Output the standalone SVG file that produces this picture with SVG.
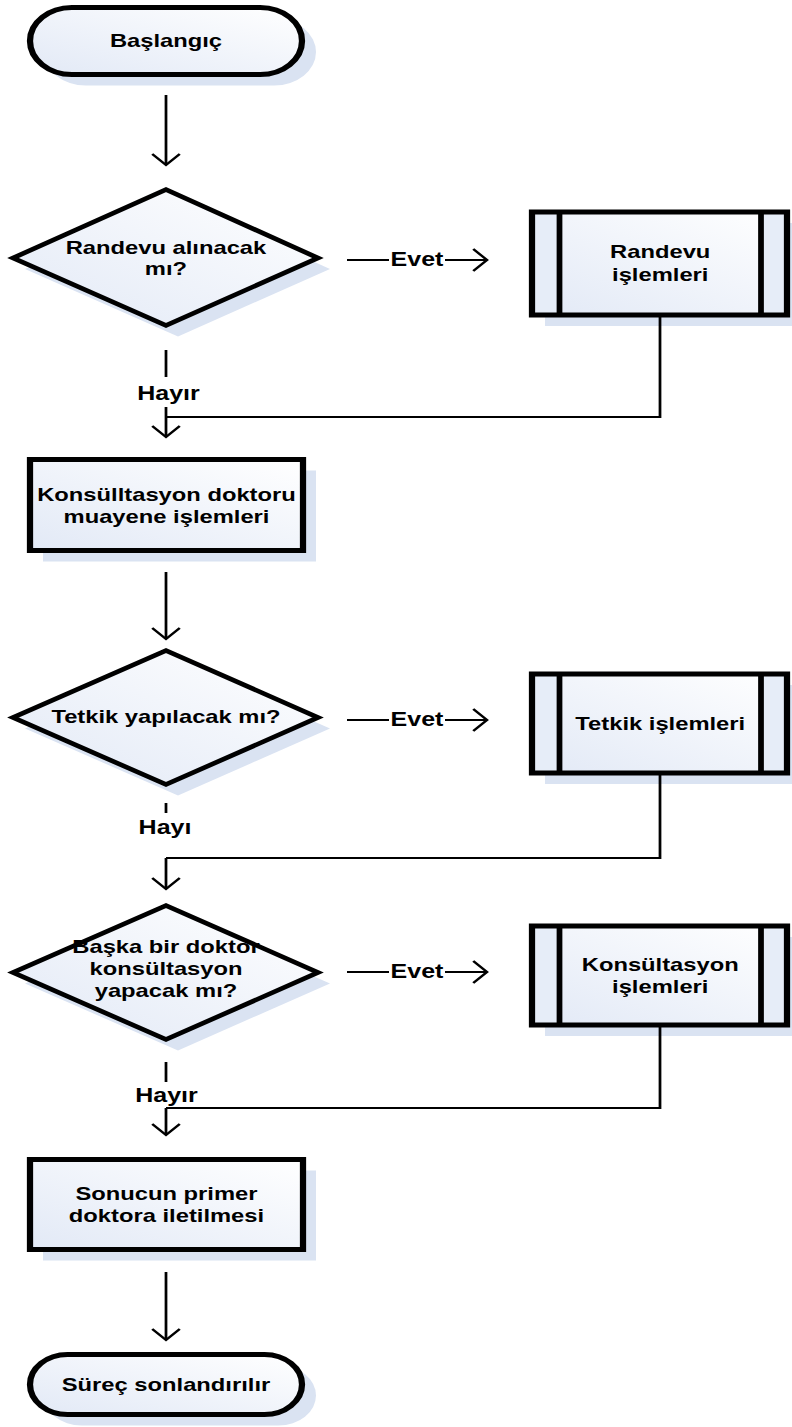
<svg xmlns="http://www.w3.org/2000/svg" width="792" height="1427" viewBox="0 0 792 1427">
  <defs>
    <linearGradient id="fillGrad" x1="0" y1="1" x2="1" y2="0">
      <stop offset="0" stop-color="#e2e9f6"/>
      <stop offset="1" stop-color="#ffffff"/>
    </linearGradient>
    <marker id="ah" viewBox="-14 -13 16 26" markerWidth="16" markerHeight="26" refX="0" refY="0" orient="auto" markerUnits="userSpaceOnUse" overflow="visible">
      <path d="M-11,-11 L0,0 L-11,11" fill="none" stroke="#000" stroke-width="2.2" stroke-linejoin="miter"/>
    </marker>
    <style>
      .shadow { fill: #dae3f2; stroke: none; }
      .node { fill: url(#fillGrad); stroke: #000; stroke-width: 5; }
      .fillonly { fill: url(#fillGrad); stroke: none; }
      .outline { fill: none; stroke: #000; stroke-width: 4.5; stroke-linejoin: miter; }
      .strip { fill: #e6edf8; stroke: none; }
      .bar { stroke: #000; stroke-width: 4.6; }
      .t { font-family: "Liberation Sans", Arial, sans-serif; font-weight: bold; font-size: 19px; fill: #000; text-anchor: middle; }
      .lbl { font-family: "Liberation Sans", Arial, sans-serif; font-weight: bold; font-size: 20px; fill: #000; text-anchor: middle; }
      .c { fill: none; stroke: #000; stroke-width: 2.2; }
      .arrow { marker-end: url(#ah); }
    </style>
  </defs>

  <rect width="792" height="1427" fill="#ffffff"/>

  <!-- drawing is laid out in a horizontally condensed space and widened by 1.25 -->
  <g transform="scale(1.25 1)">

    <!-- Start terminator -->
    <g id="start">
      <rect class="shadow" x="35.2" y="18.5" width="217.6" height="67" rx="33.5" ry="33.5"/>
      <rect class="node" x="24" y="7.5" width="217.6" height="67" rx="33.5" ry="33.5"/>
      <text class="t" x="132.8" y="47">Başlangıç</text>
    </g>

    <!-- Decision: appointment -->
    <g id="dec-randevu">
      <polygon class="shadow" transform="translate(9.6 11)" points="10.4,258 132.8,189.5 254.4,258 132.8,325.5"/>
      <polygon class="fillonly" points="10.4,258 132.8,189.5 254.4,258 132.8,325.5"/>
      <text class="t" x="132.8" y="254">Randevu alınacak</text>
      <text class="t" x="132.8" y="275">mı?</text>
      <polygon class="outline" points="10.4,258 132.8,189.5 254.4,258 132.8,325.5"/>
    </g>

    <!-- Subprocess: appointment -->
    <g id="sub-randevu">
      <rect class="shadow" x="436" y="223" width="204" height="103"/>
      <rect class="fillonly" x="425.6" y="212" width="204" height="103"/>
      <rect class="strip" x="425.6" y="212" width="22" height="103"/>
      <rect class="strip" x="608.8" y="212" width="20.8" height="103"/>
      <rect class="node" x="425.6" y="212" width="204" height="103" fill="none" style="fill:none"/>
      <line class="bar" x1="447.6" y1="212" x2="447.6" y2="315"/>
      <line class="bar" x1="608.8" y1="212" x2="608.8" y2="315"/>
      <text class="t" x="528.2" y="258">Randevu</text>
      <text class="t" x="528.2" y="281">işlemleri</text>
    </g>

    <!-- Process: consultation doctor examination -->
    <g id="proc-muayene">
      <rect class="shadow" x="34.4" y="470.5" width="218.4" height="91"/>
      <rect class="node" x="24" y="459.5" width="218.4" height="91"/>
      <text class="t" x="133.2" y="501">Konsülltasyon doktoru</text>
      <text class="t" x="133.2" y="523">muayene işlemleri</text>
    </g>

    <!-- Decision: tests -->
    <g id="dec-tetkik">
      <polygon class="shadow" transform="translate(9.6 11)" points="10.4,717.5 132.8,650.5 254.4,717.5 132.8,784.5"/>
      <polygon class="fillonly" points="10.4,717.5 132.8,650.5 254.4,717.5 132.8,784.5"/>
      <text class="t" x="132.8" y="723">Tetkik yapılacak mı?</text>
      <polygon class="outline" points="10.4,717.5 132.8,650.5 254.4,717.5 132.8,784.5"/>
    </g>

    <!-- Subprocess: tests -->
    <g id="sub-tetkik">
      <rect class="shadow" x="436" y="685" width="204" height="99"/>
      <rect class="fillonly" x="425.6" y="674" width="204" height="99"/>
      <rect class="strip" x="425.6" y="674" width="22" height="99"/>
      <rect class="strip" x="608.8" y="674" width="20.8" height="99"/>
      <rect class="node" x="425.6" y="674" width="204" height="99" style="fill:none"/>
      <line class="bar" x1="447.6" y1="674" x2="447.6" y2="773"/>
      <line class="bar" x1="608.8" y1="674" x2="608.8" y2="773"/>
      <text class="t" x="528.2" y="730">Tetkik işlemleri</text>
    </g>

    <!-- Decision: another doctor consultation -->
    <g id="dec-konsultasyon">
      <polygon class="shadow" transform="translate(9.6 11)" points="10.4,972.5 132.8,905.5 254.4,972.5 132.8,1039.5"/>
      <polygon class="fillonly" points="10.4,972.5 132.8,905.5 254.4,972.5 132.8,1039.5"/>
      <text class="t" x="132.8" y="953">Başka bir doktor</text>
      <text class="t" x="132.8" y="975">konsültasyon</text>
      <text class="t" x="132.8" y="997">yapacak mı?</text>
      <polygon class="outline" points="10.4,972.5 132.8,905.5 254.4,972.5 132.8,1039.5"/>
    </g>

    <!-- Subprocess: consultation -->
    <g id="sub-konsultasyon">
      <rect class="shadow" x="436" y="937" width="204" height="99"/>
      <rect class="fillonly" x="425.6" y="926" width="204" height="99"/>
      <rect class="strip" x="425.6" y="926" width="22" height="99"/>
      <rect class="strip" x="608.8" y="926" width="20.8" height="99"/>
      <rect class="node" x="425.6" y="926" width="204" height="99" style="fill:none"/>
      <line class="bar" x1="447.6" y1="926" x2="447.6" y2="1025"/>
      <line class="bar" x1="608.8" y1="926" x2="608.8" y2="1025"/>
      <text class="t" x="528.2" y="971">Konsültasyon</text>
      <text class="t" x="528.2" y="993">işlemleri</text>
    </g>

    <!-- Process: result sent to primary doctor -->
    <g id="proc-sonuc">
      <rect class="shadow" x="34.4" y="1170.5" width="218.4" height="90"/>
      <rect class="node" x="24" y="1159.5" width="218.4" height="90"/>
      <text class="t" x="133.2" y="1200">Sonucun primer</text>
      <text class="t" x="133.2" y="1222">doktora iletilmesi</text>
    </g>

    <!-- End terminator -->
    <g id="end">
      <rect class="shadow" x="35.2" y="1365.5" width="217.6" height="60" rx="30" ry="30"/>
      <rect class="node" x="24" y="1354.5" width="217.6" height="60" rx="30" ry="30"/>
      <text class="t" x="132.8" y="1391">Süreç sonlandırılır</text>
    </g>

    <!-- Connectors -->
    <g id="connectors">
      <line class="c arrow" x1="132.8" y1="95" x2="132.8" y2="165"/>

      <!-- appointment: yes -->
      <line class="c" x1="277.6" y1="260" x2="311.2" y2="260"/>
      <text class="lbl" x="333.6" y="266">Evet</text>
      <line class="c arrow" x1="356" y1="260" x2="389.6" y2="260"/>
      <!-- appointment: no -->
      <line class="c" x1="132.8" y1="350" x2="132.8" y2="377"/>
      <text class="lbl" x="134.8" y="400">Hayır</text>
      <line class="c arrow" x1="132.8" y1="407" x2="132.8" y2="437"/>
      <polyline class="c" points="528,315 528,417 132.8,417"/>

      <line class="c arrow" x1="132.8" y1="572" x2="132.8" y2="639"/>

      <!-- tests: yes -->
      <line class="c" x1="277.6" y1="720" x2="311.2" y2="720"/>
      <text class="lbl" x="333.6" y="726">Evet</text>
      <line class="c arrow" x1="356" y1="720" x2="389.6" y2="720"/>
      <!-- tests: no -->
      <line class="c" x1="132.8" y1="803" x2="132.8" y2="813"/>
      <text class="lbl" x="132" y="834">Hayı</text>
      <polyline class="c" points="528,773 528,858 132.8,858"/>
      <line class="c arrow" x1="132.8" y1="858" x2="132.8" y2="889"/>

      <!-- consultation: yes -->
      <line class="c" x1="277.6" y1="972" x2="311.2" y2="972"/>
      <text class="lbl" x="333.6" y="978">Evet</text>
      <line class="c arrow" x1="356" y1="972" x2="389.6" y2="972"/>
      <!-- consultation: no -->
      <line class="c" x1="132.8" y1="1062" x2="132.8" y2="1082"/>
      <text class="lbl" x="133.2" y="1102">Hayır</text>
      <polyline class="c" points="528,1025 528,1108 132.8,1108"/>
      <line class="c arrow" x1="132.8" y1="1108" x2="132.8" y2="1135"/>

      <line class="c arrow" x1="132.8" y1="1272" x2="132.8" y2="1340"/>
    </g>
  </g>
</svg>
